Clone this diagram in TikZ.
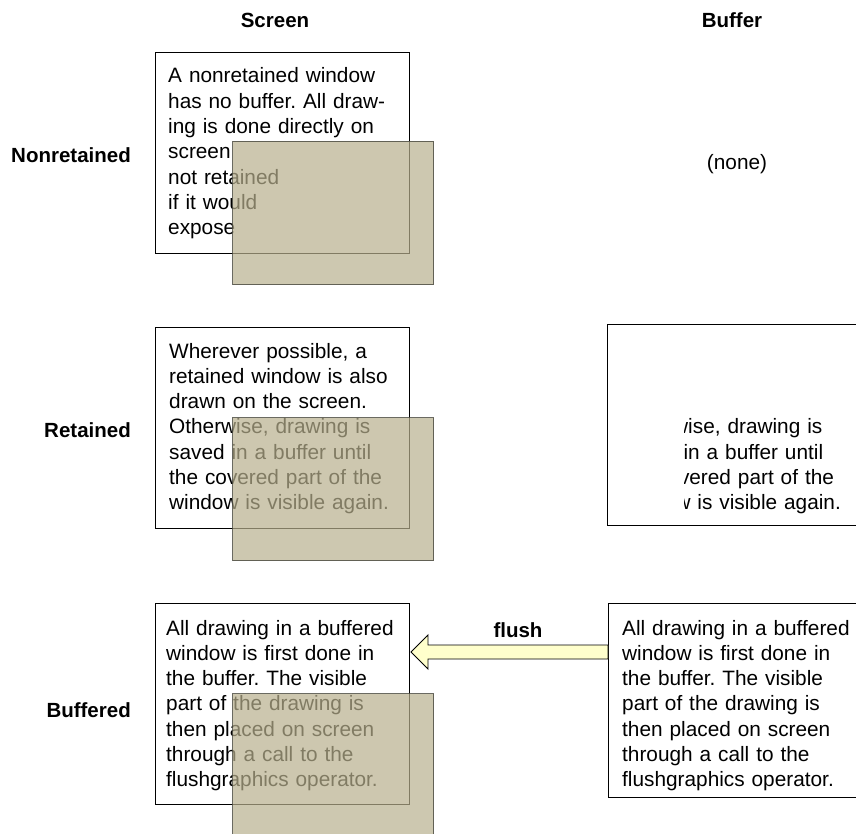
\documentclass[tikz,border=0pt]{standalone}
\usepackage{fontspec}
\setmainfont{Liberation Sans}
\usetikzlibrary{calc}
\frenchspacing
\definecolor{overlay}{RGB}{184,176,142}
\definecolor{overlayline}{RGB}{80,80,70}
\definecolor{flushyellow}{RGB}{255,255,204}
\tikzset{
  win/.style={draw=black, line width=1pt, fill=white, anchor=north west, inner sep=0pt, minimum width=254pt, minimum height=201pt},
  cover/.style={draw=overlayline, line width=1pt, fill=overlay, fill opacity=0.7, draw opacity=0.85, anchor=north west, inner sep=0pt, minimum width=201pt, minimum height=143pt},
  body/.style={anchor=base west, inner sep=0pt, text width=240pt, align=left, font=\fontsize{20.8}{25.3}\selectfont\frenchspacing},
  rowlabel/.style={anchor=base east, inner sep=0pt, font=\fontsize{20.5}{24}\selectfont\bfseries},
  collabel/.style={anchor=base, inner sep=0pt, font=\fontsize{20.5}{24}\selectfont\bfseries},
  flusharrow/.style={draw=black, line width=0.9pt, fill=flushyellow, line join=miter}
}
\begin{document}
\begin{tikzpicture}[x=1pt,y=-1pt]
\useasboundingbox (0,0) rectangle (856,834);

% column labels
\node[collabel] (colS) at (275,28) {Screen};
\node[collabel] (colB) at (732,28) {Buffer};

% row labels
\node[rowlabel] (rowN) at (131,163) {Nonretained};
\node[rowlabel] (rowR) at (131,437) {Retained};
\node[rowlabel] (rowB) at (131,717) {Buffered};

% Nonretained
\node[win] (scrN) at (155,52) {};
\node[body] (txtN) at (168,83) {A nonretained window\\has no buffer. All draw-\\ing is done directly on\\screen\\not retained\\if it would\\expose};
\node[cover] (covN) at (232,141) {};
\node[anchor=base, inner sep=0pt, font=\fontsize{20.8}{25.3}\selectfont] (none) at (737,170) {(none)};

% Retained
\node[win] (scrR) at (155,327) {};
\node[body] (txtR) at (169,358) {Wherever possible, a\\retained window is also\\drawn on the screen.\\Otherwise, drawing is\\saved in a buffer until\\the covered part of the\\window is visible again.};
\node[cover] (covR) at (232,417) {};

\node[win] (bufR) at (607,324) {};
\begin{scope}
  \clip (684,412) rectangle (856,522);
  \node[body] (txtRB) at (621,358) {Wherever possible, a\\retained window is also\\drawn on the screen.\\Otherwise, drawing is\\saved in a buffer until\\the covered part of the\\window is visible again.};
\end{scope}

% Buffered
\node[win] (scrB) at (155,603) {};
\node[body] (txtB) at (166,635) {All drawing in a buffered\\window is first done in\\the buffer. The visible\\part of the drawing is\\then placed on screen\\through a call to the\\flushgraphics operator.};
\node[cover] (covB) at (232,693) {};

\node[win, minimum height=194pt] (bufB) at (608,603) {};
\node[body] (txtBB) at (622,635) {All drawing in a buffered\\window is first done in\\the buffer. The visible\\part of the drawing is\\then placed on screen\\through a call to the\\flushgraphics operator.};

% flush arrow
\coordinate (tip) at ($(scrB.north east)+(1,49)$);
\coordinate (tail) at (bufB.west |- tip);
\draw[flusharrow] (tip) -- ++(17,-17) -- ++(0,10) -- ($(tail)+(0,-7)$) -- ($(tail)+(0,7)$) -- ($(tip)+(17,7)$) -- ++(0,10) -- cycle;
\node[collabel] (flushlbl) at (518,637) {flush};
\end{tikzpicture}
\end{document}
